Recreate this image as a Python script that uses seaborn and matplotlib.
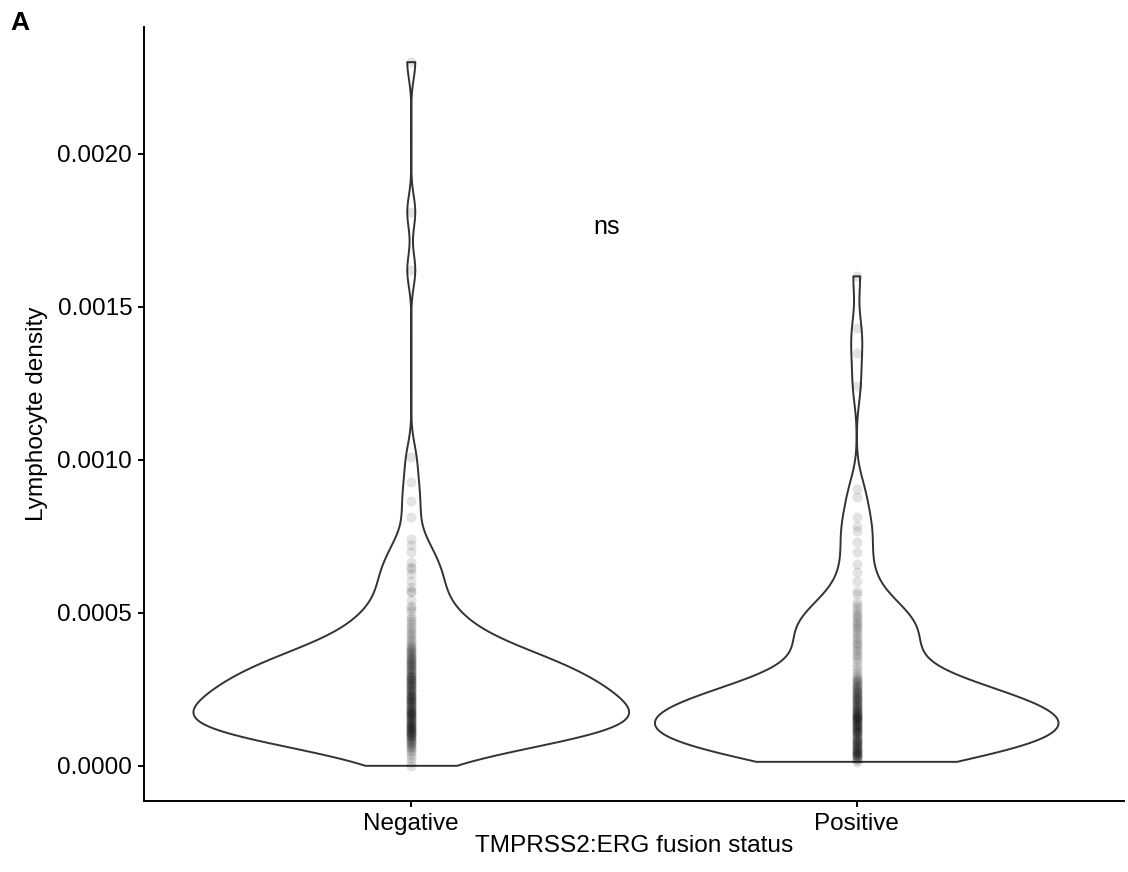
import numpy as np
import pandas as pd
import matplotlib
matplotlib.use("Agg")
import matplotlib.pyplot as plt
import matplotlib.ticker as mticker
import seaborn as sns

# ---------------- data ----------------
categories = ["Negative", "Positive"]

negative_density = [
    0.0e-4, 0.12e-4, 0.24e-4, 0.35e-4, 0.45e-4,
    0.53e-4, 0.58e-4, 0.62e-4, 0.66e-4, 0.70e-4, 0.73e-4, 0.77e-4, 0.80e-4, 0.84e-4, 0.87e-4, 0.90e-4, 0.93e-4,
    0.96e-4, 0.99e-4,
    1.01e-4, 1.03e-4, 1.06e-4, 1.08e-4, 1.10e-4, 1.12e-4, 1.15e-4, 1.16e-4, 1.19e-4, 1.20e-4, 1.23e-4, 1.25e-4,
    1.27e-4, 1.30e-4, 1.31e-4, 1.34e-4, 1.37e-4, 1.38e-4, 1.41e-4, 1.44e-4, 1.46e-4, 1.48e-4,
    1.51e-4, 1.53e-4, 1.56e-4, 1.57e-4, 1.60e-4, 1.62e-4, 1.65e-4, 1.66e-4, 1.69e-4, 1.71e-4, 1.73e-4, 1.76e-4,
    1.77e-4, 1.80e-4, 1.83e-4, 1.84e-4, 1.87e-4, 1.90e-4, 1.91e-4, 1.94e-4, 1.97e-4, 1.98e-4,
    2.01e-4, 2.06e-4, 2.08e-4, 2.11e-4, 2.13e-4, 2.15e-4, 2.18e-4, 2.20e-4, 2.22e-4, 2.25e-4, 2.27e-4,
    2.29e-4, 2.32e-4, 2.34e-4, 2.36e-4, 2.41e-4, 2.43e-4, 2.46e-4, 2.48e-4,
    2.51e-4, 2.55e-4, 2.57e-4, 2.60e-4, 2.63e-4, 2.65e-4, 2.68e-4, 2.71e-4, 2.74e-4, 2.76e-4, 2.79e-4, 2.82e-4,
    2.84e-4, 2.87e-4, 2.90e-4, 2.93e-4, 2.95e-4, 2.98e-4,
    3.02e-4, 3.06e-4, 3.08e-4, 3.12e-4, 3.16e-4, 3.18e-4, 3.22e-4, 3.25e-4, 3.28e-4, 3.32e-4, 3.35e-4, 3.38e-4,
    3.41e-4, 3.45e-4, 3.48e-4,
    3.52e-4, 3.57e-4, 3.60e-4, 3.64e-4, 3.69e-4, 3.72e-4, 3.77e-4, 3.80e-4, 3.86e-4, 3.90e-4, 3.95e-4,
    4.02e-4, 4.09e-4, 4.15e-4, 4.23e-4, 4.30e-4, 4.39e-4, 4.48e-4,
    4.53e-4, 4.62e-4, 4.73e-4, 4.80e-4, 4.91e-4,
    5.06e-4, 5.15e-4, 5.23e-4, 5.41e-4,
    5.68e-4, 5.72e-4, 5.85e-4,
    6.05e-4, 6.26e-4, 6.44e-4,
    6.50e-4, 6.66e-4, 6.99e-4,
    7.21e-4, 7.42e-4, 8.14e-4, 8.67e-4, 9.28e-4, 10.1e-4,
    16.2e-4, 18.1e-4, 23.0e-4,
]

positive_density = [
    0.13e-4, 0.18e-4, 0.22e-4, 0.25e-4, 0.28e-4, 0.31e-4, 0.34e-4, 0.36e-4, 0.38e-4, 0.40e-4, 0.42e-4, 0.44e-4,
    0.46e-4, 0.48e-4,
    0.51e-4, 0.53e-4, 0.56e-4, 0.58e-4, 0.61e-4, 0.63e-4, 0.66e-4, 0.68e-4, 0.71e-4, 0.73e-4, 0.75e-4, 0.78e-4,
    0.80e-4, 0.83e-4, 0.85e-4, 0.88e-4, 0.91e-4, 0.94e-4, 0.97e-4,
    1.00e-4, 1.03e-4, 1.07e-4, 1.09e-4, 1.11e-4, 1.13e-4, 1.15e-4, 1.18e-4, 1.20e-4, 1.22e-4, 1.24e-4,
    1.27e-4, 1.29e-4, 1.31e-4, 1.33e-4, 1.36e-4, 1.38e-4, 1.41e-4, 1.43e-4, 1.45e-4, 1.48e-4,
    1.50e-4, 1.52e-4, 1.54e-4, 1.55e-4, 1.57e-4, 1.59e-4, 1.61e-4, 1.63e-4, 1.64e-4, 1.66e-4, 1.68e-4, 1.70e-4,
    1.73e-4, 1.75e-4, 1.78e-4, 1.80e-4, 1.83e-4, 1.85e-4, 1.88e-4, 1.91e-4, 1.93e-4, 1.96e-4, 1.99e-4,
    2.02e-4, 2.05e-4, 2.08e-4, 2.11e-4, 2.14e-4, 2.17e-4, 2.20e-4, 2.23e-4, 2.26e-4, 2.29e-4, 2.32e-4, 2.35e-4,
    2.38e-4, 2.41e-4, 2.44e-4, 2.47e-4, 2.49e-4,
    2.53e-4, 2.57e-4, 2.61e-4, 2.65e-4, 2.69e-4, 2.73e-4, 2.77e-4, 2.81e-4, 2.85e-4, 2.89e-4, 2.98e-4,
    3.06e-4, 3.16e-4, 3.27e-4, 3.38e-4, 3.48e-4,
    3.58e-4, 3.66e-4, 3.75e-4, 3.83e-4, 3.91e-4, 3.98e-4,
    4.06e-4, 4.14e-4, 4.22e-4, 4.30e-4, 4.38e-4, 4.46e-4,
    4.54e-4, 4.61e-4, 4.68e-4, 4.75e-4, 4.82e-4, 4.89e-4, 4.96e-4,
    5.06e-4, 5.15e-4, 5.25e-4, 5.36e-4,
    5.62e-4, 5.72e-4,
    6.05e-4, 6.34e-4, 6.60e-4, 7.00e-4, 7.32e-4, 7.68e-4, 7.85e-4, 8.14e-4, 8.80e-4, 9.05e-4,
    12.4e-4, 13.5e-4, 14.3e-4, 16.0e-4,
]

y_ticks = [0.0, 0.0005, 0.0010, 0.0015, 0.0020]
violin_widths = [0.978, 0.906]
x_label = "TMPRSS2:ERG fusion status"
y_label = "Lymphocyte density"
test_label = "ns"
panel_label = "A"

# ---------------- plotting ----------------
sns.set_theme(style="ticks")
plt.rcParams["font.family"] = ["Liberation Sans", "DejaVu Sans"]

df = pd.DataFrame({
    "status": [categories[0]] * len(negative_density) + [categories[1]] * len(positive_density),
    "density": negative_density + positive_density,
})


def nrd0_factor(v):
    v = np.asarray(v, dtype=float)
    sd = v.std(ddof=1)
    iqr = np.subtract(*np.percentile(v, [75, 25]))
    bw = 0.9 * min(sd, iqr / 1.34) * len(v) ** -0.2
    return bw / sd


fig = plt.figure(figsize=(11.28, 8.72), dpi=100)
ax = fig.add_axes([144 / 1128, 71 / 872, 980 / 1128, 774 / 872])

for cat, w in zip(categories, violin_widths):
    sub = df[df["status"] == cat]
    sns.violinplot(
        data=sub, x="status", y="density", order=categories, ax=ax,
        cut=0, inner=None, fill=False, color="#333333", linecolor="#333333",
        linewidth=1.4, width=w, density_norm="width",
        bw_method=nrd0_factor(sub["density"]), gridsize=512,
    )

sns.stripplot(
    data=df, x="status", y="density", order=categories, ax=ax,
    jitter=False, color="black", alpha=0.11, size=7.2, linewidth=0,
)

ax.set_xlim(-0.6, 1.6)
ax.set_ylim(-0.000115, 0.002415)
ax.set_yticks(y_ticks)
ax.yaxis.set_major_formatter(mticker.FormatStrFormatter("%.4f"))

for side in ["top", "right"]:
    ax.spines[side].set_visible(False)
for side in ["left", "bottom"]:
    ax.spines[side].set_linewidth(1.4)
    ax.spines[side].set_color("black")

ax.tick_params(axis="both", direction="out", length=4.5, width=1.4, color="black",
               labelsize=17.5, labelcolor="black", pad=4)
ax.set_xlabel(x_label, fontsize=17.6, color="black", labelpad=0)
ax.set_ylabel(y_label, fontsize=17.6, color="black", labelpad=7)

ax.text(0.409, 0.00176, test_label, fontsize=18, ha="left", va="center", color="black")
fig.text(0.009, 0.987, panel_label, fontsize=19, fontweight="bold", ha="left", va="top", color="black")

fig.savefig("out.png", dpi=100, facecolor="white")
